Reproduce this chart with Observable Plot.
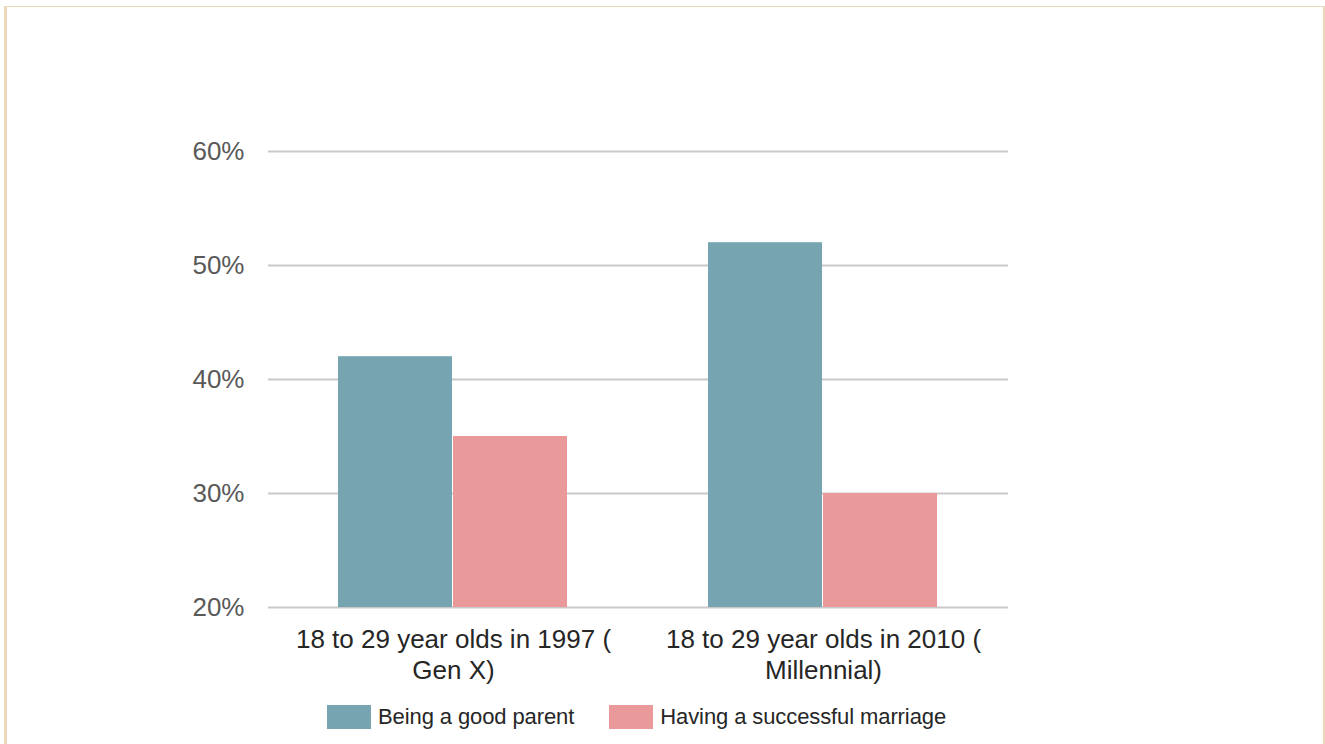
<!DOCTYPE html>
<html>
<head>
<meta charset="utf-8">
<script src="https://cdn.jsdelivr.net/npm/d3@7"></script>
<script src="https://cdn.jsdelivr.net/npm/@observablehq/plot@0.6"></script>
<style>
  html, body { margin: 0; padding: 0; background: #fff; }
  body { width: 1325px; height: 744px; position: relative; overflow: hidden; font-family: "Liberation Sans", Arial, sans-serif; }
  #frame { position: absolute; left: 4px; top: 6px; width: 1316px; height: 800px; border-top: 1px solid #eed8bc; border-left: 3px solid #eed8bc; border-right: 3px solid #eed8bc; }
  #chart { position: absolute; left: 0; top: 0; }
  #legend { position: absolute; top: 704px; left: 327px; display: flex; align-items: center; font-size: 22px; color: #262626; letter-spacing: -0.1px; }
  .item { display: flex; align-items: center; margin-right: 35px; }
  .sw { width: 44px; height: 24px; margin-right: 7px; }
</style>
</head>
<body>
<div id="frame"></div>
<div id="chart"></div>
<div id="legend"></div>
<script>
const groups = ["18 to 29 year olds in 1997 (\nGen X)", "18 to 29 year olds in 2010 (\nMillennial)"];
const series = ["Being a good parent", "Having a successful marriage"];
const goodParent = [42, 52];
const successfulMarriage = [35, 30];
const yTicks = [20, 30, 40, 50, 60];
const colors = ["#76a5b1", "#e99999"];

const data = [];
groups.forEach((g, i) => {
  data.push({group: g, series: series[0], value: goodParent[i]});
  data.push({group: g, series: series[1], value: successfulMarriage[i]});
});
const base = yTicks[0];

const chart = Plot.plot({
  width: 1325,
  height: 700,
  marginLeft: 267,
  marginRight: 317,
  marginTop: 151,
  marginBottom: 93,
  style: {fontFamily: "'Liberation Sans', Arial, sans-serif", background: "transparent"},
  fx: {domain: groups, padding: 0, label: null},
  x: {domain: series, axis: null, paddingInner: 0.0086, paddingOuter: 0.6},
  y: {domain: [yTicks[0], yTicks[yTicks.length - 1]]},
  color: {domain: series, range: colors},
  marks: [
    Plot.gridY(yTicks, {stroke: "#c9c9c9", strokeWidth: 2, strokeOpacity: 1}),
    Plot.barY(data, {fx: "group", x: "series", y1: base, y2: "value", fill: "series"}),
    Plot.axisY(yTicks, {tickSize: 0, tickPadding: 24, tickFormat: d => d + "%", fontSize: 26, fill: "#595959", label: null, letterSpacing: -0.4}),
    Plot.axisFx({anchor: "bottom", tickSize: 0, tickPadding: 18, fontSize: 26, lineHeight: 1.2, fill: "#262626", label: null, letterSpacing: -0.4})
  ]
});
document.getElementById("chart").appendChild(chart);

const legend = document.getElementById("legend");
series.forEach((s, i) => {
  const item = document.createElement("div");
  item.className = "item";
  const sw = document.createElement("div");
  sw.className = "sw";
  sw.style.background = colors[i];
  const t = document.createElement("span");
  t.textContent = s;
  item.appendChild(sw);
  item.appendChild(t);
  legend.appendChild(item);
});
</script>
</body>
</html>
